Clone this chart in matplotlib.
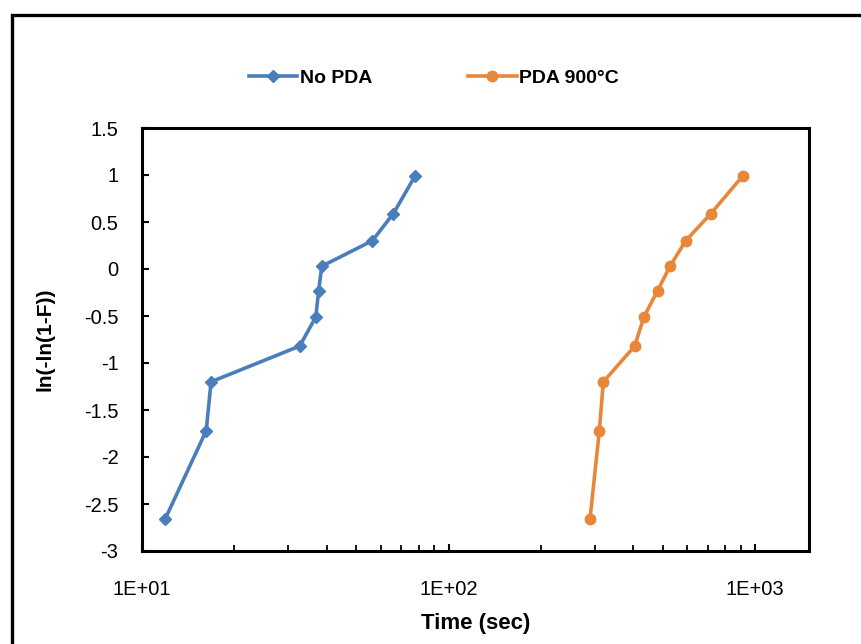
import matplotlib
matplotlib.use("Agg")
import matplotlib.pyplot as plt
from matplotlib.patches import Rectangle
from matplotlib.ticker import FixedLocator, FixedFormatter, LogLocator, NullFormatter

plt.rcParams['font.family'] = ['Liberation Sans', 'DejaVu Sans']

series_names = ["No PDA", "PDA 900°C"]
time_no_pda = [11.9, 16.2, 16.8, 32.7, 36.9, 37.7, 38.6, 56.4, 66.1, 77.8]
time_pda900 = [289.5, 310.5, 320.0, 405.0, 434.0, 481.0, 528.0, 594.0, 718.0, 912.0]
weibull_y = [-2.66, -1.72, -1.20, -0.82, -0.51, -0.23, 0.03, 0.30, 0.59, 0.99]
x_ticks = [10, 100, 1000]
x_tick_labels = ["1E+01", "1E+02", "1E+03"]
y_ticks = [1.5, 1, 0.5, 0, -0.5, -1, -1.5, -2, -2.5, -3]
y_tick_labels = ["1.5", "1", "0.5", "0", "-0.5", "-1", "-1.5", "-2", "-2.5", "-3"]

blue = "#4A7EBB"
orange = "#E8873A"

fig = plt.figure(figsize=(8.61, 6.44), dpi=100)
ax = fig.add_axes([142/861, 1-551/644, (809-142)/861, (551-128)/644])

ax.plot(time_no_pda, weibull_y, color=blue, lw=2.6, marker="D", ms=6.5,
        label=series_names[0], zorder=3)
ax.plot(time_pda900, weibull_y, color=orange, lw=2.6, marker="o", ms=7.5,
        label=series_names[1], zorder=3)

ax.set_xscale("log")
ax.set_xlim(10, 1500)
ax.set_ylim(-3, 1.5)
ax.xaxis.set_major_locator(FixedLocator(x_ticks))
ax.xaxis.set_major_formatter(FixedFormatter(x_tick_labels))
ax.xaxis.set_minor_locator(LogLocator(base=10, subs=range(2, 10)))
ax.xaxis.set_minor_formatter(NullFormatter())
ax.yaxis.set_major_locator(FixedLocator(y_ticks))
ax.yaxis.set_major_formatter(FixedFormatter(y_tick_labels))

for s in ax.spines.values():
    s.set_linewidth(2.2)
    s.set_color("black")

ax.tick_params(axis="both", which="major", direction="in", length=5, width=1.5,
               labelsize=14.5, colors="black")
ax.tick_params(axis="x", which="major", pad=21)
ax.tick_params(axis="y", which="major", pad=17)
ax.tick_params(axis="x", which="minor", direction="in", length=4, width=1.3)

ax.set_xlabel("Time (sec)", fontsize=16, fontweight="bold", labelpad=10)
ax.set_ylabel("ln(-ln(1-F))", fontsize=15, fontweight="bold", labelpad=21)

leg = fig.legend(loc="center", bbox_to_anchor=(434/861, 1-78/644), ncol=2,
                 frameon=False, columnspacing=4.9,
                 handlelength=2.5, handletextpad=0.15,
                 prop={'weight': 'bold', 'size': 14})

border = Rectangle((12/861, -0.02), 1.0, 1-15/644+0.02, transform=fig.transFigure,
                   fill=False, edgecolor="black", linewidth=2.4, zorder=10)
fig.patches.append(border)

fig.savefig("out.png", dpi=100)
